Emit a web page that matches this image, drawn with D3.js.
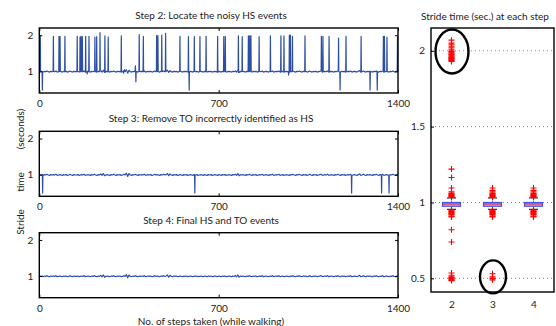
<!DOCTYPE html>
<html><head><meta charset="utf-8">
<script src="https://cdn.jsdelivr.net/npm/d3@7"></script>
<style>body{margin:0;background:#fff}svg{display:block}text{font-family:Lato,"Open Sans",sans-serif;fill:#222}</style>
</head><body><svg id="c" width="556" height="326"></svg>
<script>
// ---------- DATA ----------
const stepTicks = [0, 700, 1400];
const strideTicks = [1, 2];
const baseStep = 5; // baseline sampled every 5 steps
const baseline = [
1.00,0.99,1.00,0.98,1.00,0.99,1.01,0.99,0.98,1.00,0.99,1.00,0.99,1.01,0.98,0.99,1.00,0.99,0.98,1.00,
0.99,1.00,0.98,0.99,1.01,0.99,0.98,1.00,0.99,0.99,1.00,0.98,0.99,1.00,0.99,1.01,0.98,0.99,1.00,0.99,
0.98,1.00,0.99,1.01,0.99,0.98,1.00,0.99,1.02,0.98,1.03,0.97,0.99,1.00,0.99,0.98,1.00,0.99,1.01,0.99,
0.98,1.00,0.99,1.00,0.98,0.99,1.01,0.99,1.04,0.95,1.03,0.99,0.98,1.00,0.99,1.01,0.99,0.98,1.00,0.99,
1.00,0.99,1.01,0.98,0.99,1.00,0.99,1.00,0.98,0.99,1.01,0.99,1.00,0.99,0.98,1.00,0.99,1.01,0.99,1.00,
1.03,0.97,1.02,0.99,0.98,1.00,0.99,1.00,0.98,0.99,1.00,0.99,0.98,1.00,0.99,1.00,0.98,0.99,1.00,0.99,
0.98,1.00,0.99,1.00,0.98,0.99,1.00,0.99,0.98,1.00,0.99,0.98,1.00,0.99,1.00,0.98,0.99,1.00,0.99,0.98,
1.00,0.99,0.98,1.00,0.99,1.00,0.98,0.99,1.00,0.99,0.98,1.00,0.99,1.01,0.98,1.03,0.97,1.00,0.99,1.00,
0.99,0.98,1.00,0.99,1.01,0.99,0.98,1.00,0.99,1.00,0.98,0.99,1.00,0.99,1.01,0.98,0.99,1.00,0.99,0.98,
1.00,0.99,1.01,0.98,0.99,1.00,0.99,1.01,0.98,0.99,1.00,0.98,0.99,1.00,0.99,0.98,1.00,0.99,1.01,0.99,
0.98,1.00,0.99,1.01,0.99,0.98,1.00,0.99,1.00,0.98,0.99,1.01,0.99,0.98,1.00,0.99,1.00,0.98,0.99,1.00,
1.01,0.98,0.99,1.00,0.99,1.01,0.98,0.99,1.00,0.99,0.98,1.00,0.99,1.01,0.99,0.98,1.00,0.99,1.00,0.98,
0.99,1.00,0.99,1.01,0.98,0.99,1.00,0.99,0.98,1.00,1.02,0.98,0.99,1.01,0.99,0.98,1.00,0.99,1.00,0.99,
0.98,1.00,0.99,1.01,0.99,0.98,1.00,0.99,1.01,0.98,0.99,1.00,0.99,0.98,1.00,0.99,1.01,0.99,0.98,1.00,
0.99];
// [step index, stride time]
const step2Spikes = [[4,1.98],[12,0.48],[55,1.97],[77,1.97],[81,1.96],[100,1.97],[148,1.97],[159,1.95],[163,1.97],[168,1.96],[181,1.97],[187,0.93],[194,1.97],[217,1.95],[224,1.96],[237,2.07],[256,1.98],[269,1.95],[320,1.98],[329,0.95],[333,1.05],[375,1.15],[377,0.71],[390,2.02],[406,1.97],[458,1.99],[463,1.99],[478,2.0],[493,2.05],[549,1.97],[582,1.96],[585,0.48],[605,1.96],[627,1.96],[651,1.97],[696,1.97],[720,1.96],[726,1.97],[777,1.98],[792,1.96],[816,1.98],[821,1.98],[826,1.99],[858,1.96],[902,1.98],[943,1.98],[955,1.98],[973,0.9],[976,2.0],[980,2.0],[988,1.97],[1037,1.98],[1101,1.97],[1107,1.97],[1131,1.97],[1168,1.92],[1174,0.48],[1197,1.97],[1256,1.97],[1291,0.48],[1319,0.48],[1343,1.97],[1347,1.97],[1357,1.95],[1398,1.95]];
const step3Spikes = [[13,0.49],[607,0.49],[1219,0.49],[1336,0.49],[1365,0.49]];
const step4Spikes = [];
const panelTitles = ["Step 2: Locate the noisy HS events","Step 3: Remove TO incorrectly identified as HS","Step 4: Final HS and TO events"];

const boxSteps = [2, 3, 4];
const boxLow = [0.955, 0.955, 0.955];
const boxQ1 = [0.975, 0.975, 0.975];
const boxMed = [0.99, 0.99, 0.99];
const boxQ3 = [1.0, 1.0, 1.0];
const boxHigh = [1.03, 1.03, 1.03];
const outliers2 = [2.07,2.05,2.04,2.03,2.02,2.01,2.00,1.995,1.99,1.985,1.98,1.975,1.97,1.965,1.96,1.955,1.95,1.945,1.94,1.935,1.93,1.22,1.165,1.095,1.07,1.06,1.055,1.05,1.045,1.04,1.035,0.95,0.945,0.94,0.935,0.93,0.925,0.92,0.91,0.905,0.82,0.74,0.535,0.52,0.51,0.505,0.50,0.495,0.49,0.485];
const outliers3 = [1.095,1.08,1.07,1.06,1.055,1.05,1.045,1.04,1.035,0.95,0.945,0.94,0.935,0.93,0.925,0.92,0.91,0.905,0.53,0.51,0.50,0.49];
const outliers4 = [1.095,1.08,1.07,1.06,1.055,1.05,1.045,1.04,1.035,0.95,0.945,0.94,0.935,0.93,0.925,0.92,0.91,0.905];
const boxTicks = [0.5, 1, 1.5, 2];

// ---------- DRAW ----------
const svg = d3.select("#c");
const lineColor = "#2d4ea6";
const x = d3.scaleLinear().domain([0, 1400]).range([39.3, 398]);
const panelTops = [28, 131.3, 232.7];
const panelH = 65;
const spikeSets = [step2Spikes, step3Spikes, step4Spikes];

function nearestBase(i) {
  const k = Math.max(0, Math.min(baseline.length - 1, Math.round(i / baseStep)));
  return baseline[k];
}
function buildSeries(spikes) {
  const near = new Set();
  spikes.forEach(d => { for (let j = d[0] - 1; j <= d[0] + 1; j++) near.add(j); });
  const pts = baseline.map((v, i) => [i * baseStep, v]).filter(d => !near.has(d[0]));
  const spikeSet = new Set(spikes.map(d => d[0]));
  const extra = [];
  spikes.forEach(d => {
    [d[0] - 1, d[0] + 1].forEach(j => {
      if (j >= 0 && j <= 1400 && !spikeSet.has(j)) extra.push([j, nearestBase(j)]);
    });
  });
  return pts.concat(spikes, extra).sort((a, b) => a[0] - b[0]);
}

panelTops.forEach((top, k) => {
  const y = d3.scaleLinear().domain([0.4, 2.2]).range([top + panelH, top]);
  const g = svg.append("g");
  const data = buildSeries(spikeSets[k]);
  g.append("path").datum(data)
    .attr("fill", "none").attr("stroke", lineColor).attr("stroke-width", 1.2)
    .attr("stroke-linejoin", "round")
    .attr("d", d3.line().x(d => x(d[0])).y(d => y(d[1])));
  const bottom = top + panelH;
  g.append("g").attr("transform", `translate(0,${bottom})`)
    .call(d3.axisBottom(x).tickValues(stepTicks).tickSize(-3).tickPadding(7).tickFormat(d3.format("d")))
    .call(a => { a.select(".domain").remove(); a.selectAll("text").attr("font-size", 10).style("font-family","Lato"); a.selectAll("line").attr("stroke","#000"); });
  g.append("g").attr("transform", `translate(0,${top})`)
    .call(d3.axisTop(x).tickValues(stepTicks).tickSize(-3).tickFormat(""))
    .call(a => { a.select(".domain").remove(); a.selectAll("line").attr("stroke","#000"); });
  g.append("g").attr("transform", `translate(${x.range()[0]},0)`)
    .call(d3.axisLeft(y).tickValues(strideTicks).tickSize(-3).tickPadding(6).tickFormat(d3.format("d")))
    .call(a => { a.select(".domain").remove(); a.selectAll("text").attr("font-size", 10).style("font-family","Lato"); a.selectAll("line").attr("stroke","#000"); });
  g.append("g").attr("transform", `translate(${x.range()[1]},0)`)
    .call(d3.axisRight(y).tickValues(strideTicks).tickSize(-3).tickFormat(""))
    .call(a => { a.select(".domain").remove(); a.selectAll("line").attr("stroke","#000"); });
  g.append("rect").attr("x", x.range()[0]).attr("y", top)
    .attr("width", x.range()[1] - x.range()[0]).attr("height", panelH)
    .attr("fill", "none").attr("stroke", "#000").attr("stroke-width", 1.4);
  g.append("text").attr("x", 211).attr("y", top - 9).attr("text-anchor", "middle")
    .attr("font-size", 10).text(panelTitles[k]);
});

[["Stride", 222], ["time", 182], ["(seconds)", 129]].forEach(([t, cy]) => {
  svg.append("text").attr("transform", `translate(24,${cy}) rotate(-90)`)
    .attr("text-anchor", "middle").attr("font-size", 10).text(t);
});
svg.append("text").attr("x", 211).attr("y", 325).attr("text-anchor", "middle")
  .attr("font-size", 10).text("No. of steps taken (while walking)");

// ---------- box plot panel ----------
const bx = d3.scaleLinear().domain([1.5, 4.5]).range([431, 554]);
const by = d3.scaleLinear().domain([0.41, 2.15]).range([292, 28]);
const bg = svg.append("g");
bg.selectAll("line.grid").data(boxTicks).join("line").attr("class", "grid")
  .attr("x1", bx.range()[0]).attr("x2", bx.range()[1])
  .attr("y1", d => by(d)).attr("y2", d => by(d))
  .attr("stroke", "#888").attr("stroke-width", 1).attr("stroke-dasharray", "1,3");
bg.append("g").attr("transform", `translate(${bx.range()[0]},0)`)
  .call(d3.axisLeft(by).tickValues(boxTicks).tickSize(-3).tickPadding(6).tickFormat(d => d))
  .call(a => { a.select(".domain").remove(); a.selectAll("text").attr("font-size", 10).style("font-family","Lato"); a.selectAll("line").attr("stroke","#000"); });
bg.append("g").attr("transform", `translate(0,${by.range()[0]})`)
  .call(d3.axisBottom(bx).tickValues(boxSteps).tickSize(0).tickPadding(9).tickFormat(d3.format("d")))
  .call(a => { a.select(".domain").remove(); a.selectAll("text").attr("font-size", 10).style("font-family","Lato"); });

const outlierSets = [outliers2, outliers3, outliers4];
const bw = 18;
boxSteps.forEach((s, i) => {
  const cx = bx(s);
  [boxLow[i], boxHigh[i]].forEach(v => {
    bg.append("line").attr("x1", cx - bw / 4).attr("x2", cx + bw / 4)
      .attr("y1", by(v)).attr("y2", by(v)).attr("stroke", "#000").attr("stroke-width", 1);
  });
  bg.append("line").attr("x1", cx).attr("x2", cx).attr("y1", by(boxLow[i])).attr("y2", by(boxHigh[i]))
    .attr("stroke", "#000").attr("stroke-width", 0.8).attr("stroke-dasharray", "2,1");
  bg.append("rect").attr("x", cx - bw / 2).attr("y", by(boxQ3[i]))
    .attr("width", bw).attr("height", by(boxQ1[i]) - by(boxQ3[i]))
    .attr("fill", "#a7b4f5").attr("stroke", "#3f55ee").attr("stroke-width", 1.2);
  bg.append("line").attr("x1", cx - bw / 2).attr("x2", cx + bw / 2)
    .attr("y1", by(boxMed[i])).attr("y2", by(boxMed[i])).attr("stroke", "#ff2020").attr("stroke-width", 1.2);
  bg.selectAll(null).data(outlierSets[i]).join("path")
    .attr("transform", d => `translate(${cx},${by(d)})`)
    .attr("d", "M-3,0H3M0,-3V3").attr("stroke", "#ff0000").attr("stroke-width", 1.1).attr("fill", "none");
});
bg.append("rect").attr("x", bx.range()[0]).attr("y", by.range()[1])
  .attr("width", bx.range()[1] - bx.range()[0]).attr("height", by.range()[0] - by.range()[1])
  .attr("fill", "none").attr("stroke", "#000").attr("stroke-width", 1.4);
bg.append("ellipse").attr("cx", bx(2) + 0.5).attr("cy", by(1.995)).attr("rx", 16.5).attr("ry", 22)
  .attr("fill", "none").attr("stroke", "#000").attr("stroke-width", 2.4);
bg.append("ellipse").attr("cx", bx(3) + 0.5).attr("cy", by(0.51)).attr("rx", 13).attr("ry", 16.5)
  .attr("fill", "none").attr("stroke", "#000").attr("stroke-width", 2.4);
bg.append("text").attr("x", 485).attr("y", 19.5).attr("text-anchor", "middle")
  .attr("font-size", 10).text("Stride time (sec.) at each step");
</script></body></html>
